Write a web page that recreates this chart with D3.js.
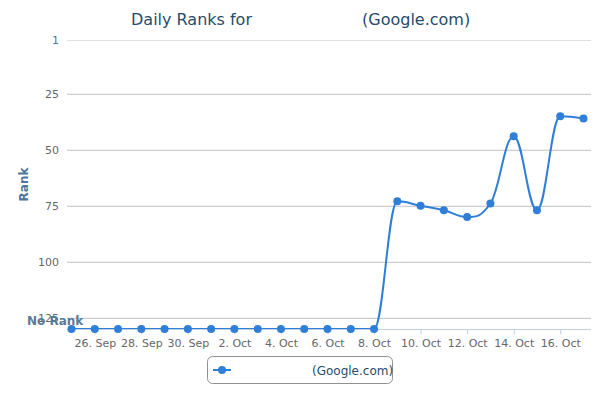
<!DOCTYPE html>
<html>
<head>
<meta charset="utf-8">
<script src="https://cdn.jsdelivr.net/npm/d3@7"></script>
<style>
  body { margin: 0; background: #fff; }
  svg { font-family: "DejaVu Sans", Verdana, sans-serif; }
</style>
</head>
<body>
<svg id="chart" width="600" height="400"></svg>
<script>
// chart data
var days = ['2013-09-25','2013-09-26','2013-09-27','2013-09-28','2013-09-29','2013-09-30',
    '2013-10-01','2013-10-02','2013-10-03','2013-10-04','2013-10-05','2013-10-06','2013-10-07',
    '2013-10-08','2013-10-09','2013-10-10','2013-10-11','2013-10-12','2013-10-13','2013-10-14',
    '2013-10-15','2013-10-16','2013-10-17'];
// null = not ranked that day
var ranks = [null,null,null,null,null,null,null,null,null,null,null,null,null,null,
    73,75,77,80,74,44,77,35,36];
var tickDays = ['2013-09-26','2013-09-28','2013-09-30','2013-10-02','2013-10-04','2013-10-06',
    '2013-10-08','2013-10-10','2013-10-12','2013-10-14','2013-10-16'];
var rankTicks = [1, 25, 50, 75, 100, 125];
var NO_RANK = 130;

var parse = d3.timeParse('%Y-%m-%d');
var points = days.map((d,i) => ({date: parse(d), rank: ranks[i] == null ? NO_RANK : ranks[i]}));

var svg = d3.select('#chart');
var plotLeft = 67, plotRight = 591, plotTop = 40, plotBottom = 329;

var x = d3.scaleTime()
    .domain([points[0].date, points[points.length-1].date])
    .range([71.5, 583.5]);
var y = d3.scaleLinear().domain([1, NO_RANK]).range([plotTop, plotBottom]);

// title
svg.append('text').attr('x', 131).attr('y', 25)
    .attr('font-size', 16).attr('fill', '#274b6d').text('Daily Ranks for');
svg.append('text').attr('x', 362).attr('y', 25)
    .attr('font-size', 16).attr('fill', '#274b6d').text('(Google.com)');

// y grid + labels
var yAxis = svg.append('g').attr('transform', 'translate(' + plotLeft + ',0)')
    .call(d3.axisLeft(y).tickValues(rankTicks).tickSize(-(plotRight-plotLeft)).tickPadding(8));
yAxis.select('.domain').remove();
yAxis.selectAll('.tick line')
    .attr('stroke', d => d == 1 ? '#e0e0e0' : '#c0c0c0');
yAxis.selectAll('.tick text')
    .attr('font-size', 11).attr('font-family', 'DejaVu Sans')
    .attr('fill', d => d == 1 ? '#4d759e' : '#666');

svg.append('text')
    .attr('transform', 'translate(28,' + ((plotTop+plotBottom)/2) + ') rotate(-90)')
    .attr('text-anchor', 'middle').attr('font-size', 12).attr('font-weight', 'bold')
    .attr('fill', '#4d759e').text('Rank');

// x axis
var xAxis = svg.append('g').attr('transform', 'translate(0,' + (plotBottom+0.5) + ')')
    .call(d3.axisBottom(x).tickValues(tickDays.map(parse))
        .tickFormat(d3.timeFormat('%-d. %b')).tickSize(5).tickPadding(5).tickSizeOuter(0));
xAxis.select('.domain').attr('stroke', '#c0d0e0').attr('d', 'M' + plotLeft + ',0H' + plotRight);
xAxis.selectAll('.tick line').attr('stroke', '#c0d0e0');
xAxis.selectAll('.tick text')
    .attr('font-size', 11).attr('font-family', 'DejaVu Sans').attr('fill', '#666');

// spline with the control point rules highcharts uses (no false extremes)
function splinePath(pts){
    var p = d3.path();
    var conts = pts.map((pt,i) => {
        var prev = pts[i-1], next = pts[i+1];
        if (!prev || !next) return null;
        var lx = (1.5*pt[0] + prev[0]) / 2.5, ly = (1.5*pt[1] + prev[1]) / 2.5;
        var rx = (1.5*pt[0] + next[0]) / 2.5, ry = (1.5*pt[1] + next[1]) / 2.5;
        var corr = ((ry - ly) * (rx - pt[0])) / (rx - lx) + pt[1] - ry;
        ly += corr; ry += corr;
        if (ly > prev[1] && ly > pt[1]) { ly = Math.max(prev[1], pt[1]); ry = 2*pt[1] - ly; }
        else if (ly < prev[1] && ly < pt[1]) { ly = Math.min(prev[1], pt[1]); ry = 2*pt[1] - ly; }
        if (ry > next[1] && ry > pt[1]) { ry = Math.max(next[1], pt[1]); ly = 2*pt[1] - ry; }
        else if (ry < next[1] && ry < pt[1]) { ry = Math.min(next[1], pt[1]); ly = 2*pt[1] - ry; }
        return {lx: lx, ly: ly, rx: rx, ry: ry};
    });
    pts.forEach((pt,i) => {
        if (i == 0) { p.moveTo(pt[0], pt[1]); return; }
        var a = conts[i-1], b = conts[i];
        p.bezierCurveTo(a ? a.rx : pts[i-1][0], a ? a.ry : pts[i-1][1],
            b ? b.lx : pt[0], b ? b.ly : pt[1], pt[0], pt[1]);
    });
    return p.toString();
}

svg.append('clipPath').attr('id', 'plotclip')
    .append('rect').attr('x', plotLeft).attr('y', plotTop - 10)
    .attr('width', plotRight-plotLeft).attr('height', plotBottom - plotTop + 10);

var xy = points.map(d => [x(d.date), y(d.rank)]);
svg.append('path')
    .attr('d', splinePath(xy))
    .attr('fill', 'none').attr('stroke', '#2f7ed8').attr('stroke-width', 2)
    .attr('clip-path', 'url(#plotclip)');

svg.append('g').selectAll('circle').data(points).join('circle')
    .attr('cx', d => x(d.date)).attr('cy', d => y(d.rank))
    .attr('r', 4).attr('fill', '#2f7ed8');

// plot line label for unranked days
svg.append('text').attr('x', 27).attr('y', 325)
    .attr('font-size', 12).attr('font-weight', 'bold')
    .attr('fill', '#5a7a9a').text('No Rank');

// legend
var lg = svg.append('g');
lg.append('rect').attr('x', 207.5).attr('y', 356.5).attr('width', 185).attr('height', 27)
    .attr('rx', 5).attr('fill', '#fff').attr('stroke', '#909090');
lg.append('line').attr('x1', 213).attr('x2', 231).attr('y1', 370).attr('y2', 370)
    .attr('stroke', '#2f7ed8').attr('stroke-width', 2);
lg.append('circle').attr('cx', 222).attr('cy', 370).attr('r', 4).attr('fill', '#2f7ed8');
lg.append('text').attr('x', 312).attr('y', 375).attr('font-size', 12)
    .attr('fill', '#274b6d').text('(Google.com)');
</script>
</body>
</html>
